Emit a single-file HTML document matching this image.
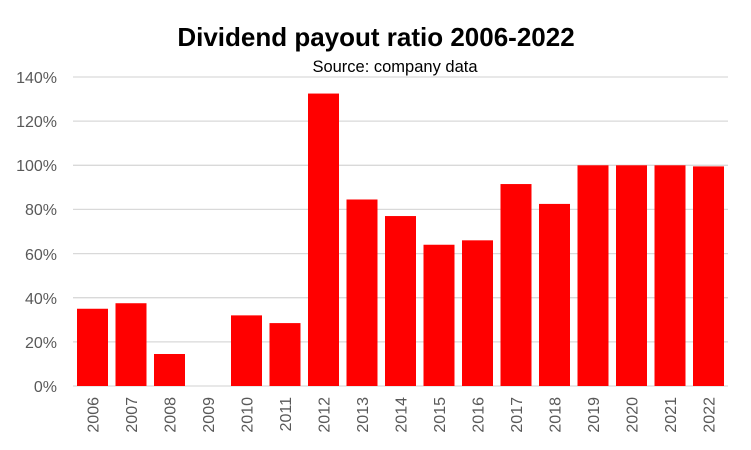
<!DOCTYPE html>
<html><head><style>
body{margin:0;background:#fff;}
svg{display:block;}
</style></head><body>
<svg width="751" height="450" xmlns="http://www.w3.org/2000/svg" font-family="Liberation Sans, sans-serif">
<rect width="751" height="450" fill="#fff"/>
<text x="376" y="46" text-anchor="middle" font-size="26" font-weight="bold" fill="#000">Dividend payout ratio 2006-2022</text>
<text x="395" y="72" text-anchor="middle" font-size="16.5" fill="#000">Source: company data</text>
<g stroke="#d9d9d9" stroke-width="1.3">
<line x1="73" x2="728" y1="77" y2="77"/>
<line x1="73" x2="728" y1="121.1" y2="121.1"/>
<line x1="73" x2="728" y1="165.3" y2="165.3"/>
<line x1="73" x2="728" y1="209.4" y2="209.4"/>
<line x1="73" x2="728" y1="253.6" y2="253.6"/>
<line x1="73" x2="728" y1="297.7" y2="297.7"/>
<line x1="73" x2="728" y1="341.9" y2="341.9"/>
<line x1="73" x2="728" y1="386" y2="386"/>
</g>
<g font-size="16" fill="#595959" text-anchor="end">
<text x="57" y="83">140%</text>
<text x="57" y="127">120%</text>
<text x="57" y="171">100%</text>
<text x="57" y="215">80%</text>
<text x="57" y="260">60%</text>
<text x="57" y="304">40%</text>
<text x="57" y="348">20%</text>
<text x="57" y="392">0%</text>
</g>
<g fill="#ff0000" id="bars"></g>
<g id="labels" font-size="16" fill="#595959"></g>
<script>
var v=[35,37.5,14.5,0,32,28.5,132.5,84.5,77,64,66,91.5,82.5,100,100,100,99.5];
var b=document.getElementById('bars'),l=document.getElementById('labels');
var ns="http://www.w3.org/2000/svg";
for(var i=0;i<17;i++){
 var x=77+i*38.5, h=v[i]*309/140;
 var r=document.createElementNS(ns,'rect');
 r.setAttribute('x',x);r.setAttribute('y',386-h);r.setAttribute('width',31);r.setAttribute('height',h);
 b.appendChild(r);
 var t=document.createElementNS(ns,'text');
 var cx=x+15.5+6;
 t.setAttribute('x',cx);t.setAttribute('y',397);t.setAttribute('text-anchor','end');
 t.setAttribute('transform','rotate(-90 '+cx+' 397)');
 t.textContent=2006+i;l.appendChild(t);
}
</script>
</svg>
</body></html>
